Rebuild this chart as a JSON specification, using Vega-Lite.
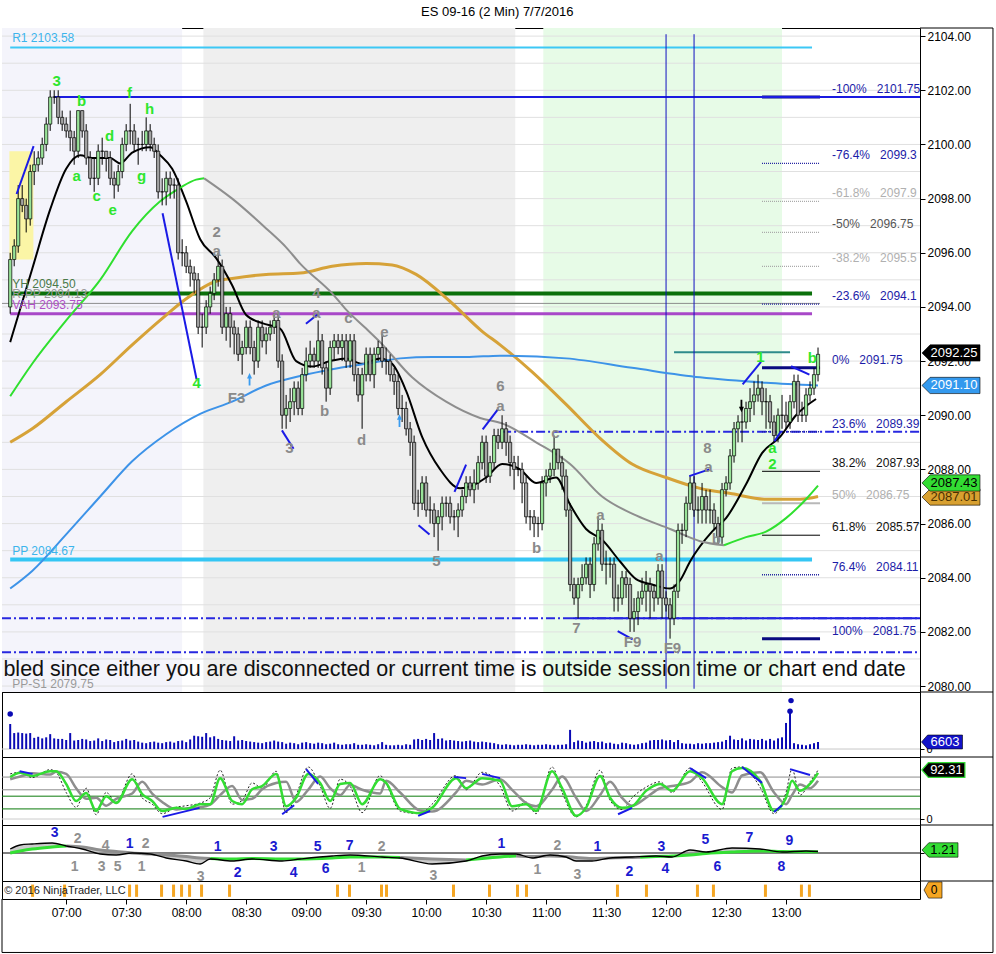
{
"$schema":"https://vega.github.io/schema/vega-lite/v6.json",
"background":"white",
"padding":{"left":0,"top":6,"right":2,"bottom":1},
"title":{"text":"ES 09-16 (2 Min)  7/7/2016","fontSize":13,"fontWeight":"normal","color":"#000","offset":8,"anchor":"middle","font":"Liberation Sans"},
"spacing":0,
"bounds":"flush",
"config":{"view":{"stroke":"#000","strokeWidth":1},"font":"Liberation Sans","axis":{"labelFont":"Liberation Sans","title":null},"text":{"font":"Liberation Sans"}},
"datasets":{
"one":[{"z":0}],
"grid":[{"p":2080},{"p":2081},{"p":2082},{"p":2083},{"p":2084},{"p":2085},{"p":2086},{"p":2087},{"p":2088},{"p":2089},{"p":2090},{"p":2091},{"p":2092},{"p":2093},{"p":2094},{"p":2095},{"p":2096},{"p":2097},{"p":2098},{"p":2099},{"p":2100},{"p":2101},{"p":2102},{"p":2103},{"p":2104}],
"bg":[{"a":387.9,"b":478,"k":"L"},{"a":488.6,"b":644.6,"k":"G"},{"a":658.6,"b":778,"k":"N"}],
"yel":[{"a":391.6,"b":403.6,"p1":2095.75,"p2":2099.75}],
"lv":[
{"k":"R1","p":2103.58,"a":392,"b":793},
{"k":"Hi","p":2101.75,"a":414,"b":847},
{"k":"YH","p":2094.5,"a":392,"b":793},
{"k":"RPP","p":2094.13,"a":387.9,"b":797},
{"k":"VAH","p":2093.75,"a":392,"b":793},
{"k":"PP","p":2084.67,"a":392,"b":793},
{"k":"DD","p":2089.39,"a":638,"b":847},
{"k":"DD","p":2082.5,"a":387.9,"b":847},
{"k":"DD","p":2081.25,"a":387.9,"b":847},
{"k":"Hi","p":2082.5,"a":673,"b":847},
{"k":"TL","p":2092.33,"a":724,"b":782},
{"k":"FibN","p":2101.75,"a":768,"b":797},
{"k":"FibN","p":2091.75,"a":768,"b":797},
{"k":"FibN","p":2081.75,"a":768,"b":797},
{"k":"FibD","p":2099.3,"a":768,"b":797},
{"k":"FibD","p":2094.1,"a":768,"b":797},
{"k":"FibD","p":2089.39,"a":768,"b":797},
{"k":"FibD","p":2084.11,"a":768,"b":797},
{"k":"FibG","p":2097.9,"a":768,"b":797},
{"k":"FibG","p":2096.75,"a":768,"b":797},
{"k":"FibG","p":2095.5,"a":768,"b":797},
{"k":"FibB","p":2087.93,"a":768,"b":797},
{"k":"FibB","p":2085.57,"a":768,"b":797},
{"k":"Fib50","p":2086.75,"a":768,"b":797}],
"vl":[{"m":720},{"m":734}],
"ma":[
{"s":"K","m":392,"p":2092.7},{"s":"K","m":403,"p":2095.4},{"s":"K","m":412,"p":2097.6},{"s":"K","m":420,"p":2099.1},{"s":"K","m":427,"p":2099.6},{"s":"K","m":433,"p":2099.5},{"s":"K","m":442,"p":2099.5},{"s":"K","m":447,"p":2099.3},{"s":"K","m":453,"p":2099.7},{"s":"K","m":462,"p":2099.9},{"s":"K","m":467,"p":2099.6},{"s":"K","m":473,"p":2099.1},{"s":"K","m":480,"p":2097.9},{"s":"K","m":487,"p":2096.5},{"s":"K","m":495,"p":2095.8},{"s":"K","m":503,"p":2094.8},{"s":"K","m":510,"p":2093.7},{"s":"K","m":518,"p":2093.4},{"s":"K","m":527,"p":2093.2},{"s":"K","m":535,"p":2092},{"s":"K","m":543,"p":2091.8},{"s":"K","m":552,"p":2092},{"s":"K","m":560,"p":2092.1},{"s":"K","m":568,"p":2091.9},{"s":"K","m":577,"p":2092.1},{"s":"K","m":583,"p":2091.9},{"s":"K","m":590,"p":2090.9},{"s":"K","m":598,"p":2089.2},{"s":"K","m":607,"p":2088},{"s":"K","m":617,"p":2087.3},{"s":"K","m":623,"p":2087.4},{"s":"K","m":630,"p":2087.7},{"s":"K","m":638,"p":2088.2},{"s":"K","m":647,"p":2088},{"s":"K","m":655,"p":2087.5},{"s":"K","m":665,"p":2087.7},{"s":"K","m":672,"p":2086.7},{"s":"K","m":680,"p":2085.8},{"s":"K","m":688,"p":2085.4},{"s":"K","m":697,"p":2084.6},{"s":"K","m":705,"p":2083.95},{"s":"K","m":713,"p":2083.75},{"s":"K","m":722,"p":2083.6},{"s":"K","m":727,"p":2083.9},{"s":"K","m":732,"p":2084.6},{"s":"K","m":743,"p":2085.7},{"s":"K","m":750,"p":2086.2},{"s":"K","m":760,"p":2087.45},{"s":"K","m":768,"p":2088.6},{"s":"K","m":777,"p":2089.2},{"s":"K","m":785,"p":2090},{"s":"K","m":795,"p":2090.6},
{"s":"O","m":392,"p":2089},{"s":"O","m":403,"p":2089.5},{"s":"O","m":420,"p":2090.5},{"s":"O","m":437,"p":2091.5},{"s":"O","m":453,"p":2092.6},{"s":"O","m":470,"p":2093.7},{"s":"O","m":480,"p":2094.3},{"s":"O","m":495,"p":2094.95},{"s":"O","m":503,"p":2095.05},{"s":"O","m":520,"p":2095.2},{"s":"O","m":537,"p":2095.25},{"s":"O","m":553,"p":2095.5},{"s":"O","m":570,"p":2095.6},{"s":"O","m":583,"p":2095.55},{"s":"O","m":595,"p":2095.2},{"s":"O","m":612,"p":2094.2},{"s":"O","m":628,"p":2093.1},{"s":"O","m":637,"p":2092.6},{"s":"O","m":653,"p":2091.6},{"s":"O","m":670,"p":2090.4},{"s":"O","m":687,"p":2089.15},{"s":"O","m":703,"p":2088.2},{"s":"O","m":720,"p":2087.7},{"s":"O","m":737,"p":2087.3},{"s":"O","m":753,"p":2087.1},{"s":"O","m":770,"p":2086.9},{"s":"O","m":787,"p":2086.9},{"s":"O","m":796,"p":2087},
{"s":"U","m":392,"p":2083.6},{"s":"U","m":403,"p":2084.25},{"s":"U","m":420,"p":2085.6},{"s":"U","m":437,"p":2087},{"s":"U","m":453,"p":2088.3},{"s":"U","m":470,"p":2089.3},{"s":"U","m":487,"p":2090.05},{"s":"U","m":503,"p":2090.5},{"s":"U","m":520,"p":2091.1},{"s":"U","m":537,"p":2091.45},{"s":"U","m":553,"p":2091.7},{"s":"U","m":570,"p":2091.9},{"s":"U","m":587,"p":2092.1},{"s":"U","m":603,"p":2092.15},{"s":"U","m":620,"p":2092.15},{"s":"U","m":637,"p":2092.2},{"s":"U","m":670,"p":2092.1},{"s":"U","m":703,"p":2091.75},{"s":"U","m":737,"p":2091.4},{"s":"U","m":770,"p":2091.2},{"s":"U","m":796,"p":2091.1},
{"s":"G1","m":392,"p":2090.7},{"s":"G1","m":403,"p":2091.9},{"s":"G1","m":420,"p":2093.5},{"s":"G1","m":437,"p":2095},{"s":"G1","m":453,"p":2096.8},{"s":"G1","m":467,"p":2097.9},{"s":"G1","m":477,"p":2098.4},{"s":"G1","m":485,"p":2098.7},{"s":"G1","m":489,"p":2098.75},
{"s":"GR","m":489,"p":2098.75},{"s":"GR","m":503,"p":2098},{"s":"GR","m":520,"p":2096.9},{"s":"GR","m":530,"p":2096.2},{"s":"GR","m":537,"p":2095.6},{"s":"GR","m":553,"p":2094.5},{"s":"GR","m":560,"p":2093.9},{"s":"GR","m":570,"p":2093.2},{"s":"GR","m":577,"p":2092.7},{"s":"GR","m":593,"p":2091.4},{"s":"GR","m":610,"p":2090.5},{"s":"GR","m":627,"p":2089.9},{"s":"GR","m":638,"p":2089.7},{"s":"GR","m":655,"p":2089},{"s":"GR","m":672,"p":2088.2},{"s":"GR","m":688,"p":2087},{"s":"GR","m":705,"p":2086.3},{"s":"GR","m":722,"p":2085.8},{"s":"GR","m":737,"p":2085.35},{"s":"GR","m":749,"p":2085.2},
{"s":"G2","m":749,"p":2085.2},{"s":"G2","m":760,"p":2085.5},{"s":"G2","m":770,"p":2085.7},{"s":"G2","m":780,"p":2086.2},{"s":"G2","m":790,"p":2086.9},{"s":"G2","m":796,"p":2087.4}],
"bars":[
{"m":392,"o":2094,"h":2096,"l":2093.75,"c":2095.75,"v":23500},
{"m":394,"o":2095.75,"h":2096.5,"l":2095.5,"c":2096.25,"v":15000},
{"m":396,"o":2096.25,"h":2098.5,"l":2096,"c":2098,"v":15500},
{"m":398,"o":2098,"h":2098.5,"l":2097.5,"c":2097.75,"v":15000},
{"m":400,"o":2097.75,"h":2098,"l":2096.75,"c":2097.25,"v":14500},
{"m":402,"o":2097.25,"h":2099.25,"l":2097,"c":2099,"v":15000},
{"m":404,"o":2099,"h":2099.75,"l":2098.5,"c":2099.25,"v":10500},
{"m":406,"o":2099.25,"h":2099.75,"l":2099,"c":2099.5,"v":11500},
{"m":408,"o":2099.5,"h":2100.25,"l":2099.25,"c":2100,"v":10000},
{"m":410,"o":2100,"h":2101,"l":2099.75,"c":2100.75,"v":11000},
{"m":412,"o":2100.75,"h":2102,"l":2100.5,"c":2101.75,"v":14000},
{"m":414,"o":2101.75,"h":2102,"l":2101.5,"c":2101.75,"v":10000},
{"m":416,"o":2101.75,"h":2102,"l":2100.75,"c":2101,"v":9500},
{"m":418,"o":2101,"h":2101.25,"l":2100.5,"c":2100.75,"v":9500},
{"m":420,"o":2100.75,"h":2101,"l":2100.25,"c":2100.5,"v":8500},
{"m":422,"o":2100.5,"h":2101.25,"l":2099.75,"c":2100.25,"v":15000},
{"m":424,"o":2100.25,"h":2100.5,"l":2099.25,"c":2099.75,"v":8000},
{"m":426,"o":2099.75,"h":2101.25,"l":2099.5,"c":2101.25,"v":8500},
{"m":428,"o":2101.25,"h":2101.25,"l":2100.25,"c":2100.5,"v":9500},
{"m":430,"o":2100.5,"h":2100.75,"l":2099.25,"c":2099.5,"v":9000},
{"m":432,"o":2099.5,"h":2099.75,"l":2098.5,"c":2098.75,"v":7500},
{"m":434,"o":2098.75,"h":2099.5,"l":2098.25,"c":2098.75,"v":8000},
{"m":436,"o":2098.75,"h":2100,"l":2098.5,"c":2099.75,"v":10000},
{"m":438,"o":2099.75,"h":2100.25,"l":2099.25,"c":2099.75,"v":7500},
{"m":440,"o":2099.75,"h":2099.75,"l":2099,"c":2099.5,"v":9000},
{"m":442,"o":2099.5,"h":2099.75,"l":2098.5,"c":2098.75,"v":8500},
{"m":444,"o":2098.75,"h":2099,"l":2098,"c":2098.5,"v":6500},
{"m":446,"o":2098.5,"h":2099.25,"l":2098.25,"c":2099,"v":7500},
{"m":448,"o":2099,"h":2100.25,"l":2098.75,"c":2100,"v":8000},
{"m":450,"o":2100,"h":2100.75,"l":2099.75,"c":2100.5,"v":9500},
{"m":452,"o":2100.5,"h":2101.5,"l":2100,"c":2100.5,"v":8000},
{"m":454,"o":2100.5,"h":2100.75,"l":2099.75,"c":2100,"v":8500},
{"m":456,"o":2100,"h":2100.25,"l":2099.25,"c":2100,"v":7000},
{"m":458,"o":2100,"h":2100.5,"l":2099.75,"c":2100,"v":6000},
{"m":460,"o":2100,"h":2101,"l":2099.75,"c":2100.5,"v":5500},
{"m":462,"o":2100.5,"h":2100.75,"l":2099.75,"c":2100,"v":6500},
{"m":464,"o":2100,"h":2100.25,"l":2099.5,"c":2099.75,"v":7000},
{"m":466,"o":2099.75,"h":2100,"l":2098,"c":2098.25,"v":6000},
{"m":468,"o":2098.25,"h":2098.75,"l":2097.75,"c":2098.25,"v":5500},
{"m":470,"o":2098.25,"h":2099,"l":2097.75,"c":2098.75,"v":6500},
{"m":472,"o":2098.75,"h":2099,"l":2098,"c":2098.5,"v":7000},
{"m":474,"o":2098.5,"h":2098.75,"l":2098,"c":2098.5,"v":6000},
{"m":476,"o":2098.5,"h":2098.75,"l":2095.75,"c":2096,"v":7500},
{"m":478,"o":2096,"h":2096.5,"l":2095.5,"c":2096,"v":8000},
{"m":480,"o":2096,"h":2096.25,"l":2095.25,"c":2095.5,"v":6500},
{"m":482,"o":2095.5,"h":2095.75,"l":2094.75,"c":2095.25,"v":9000},
{"m":484,"o":2095.25,"h":2095.5,"l":2094.5,"c":2095,"v":12500},
{"m":486,"o":2095,"h":2095.25,"l":2093,"c":2093.25,"v":12000},
{"m":488,"o":2093.25,"h":2093.75,"l":2092.5,"c":2093.25,"v":11500},
{"m":490,"o":2093.25,"h":2094.25,"l":2093,"c":2094,"v":15000},
{"m":492,"o":2094,"h":2094.75,"l":2093.75,"c":2094.5,"v":11000},
{"m":494,"o":2094.5,"h":2095.25,"l":2094.25,"c":2095,"v":12000},
{"m":496,"o":2095,"h":2096,"l":2094.75,"c":2095.5,"v":9500},
{"m":498,"o":2095.5,"h":2095.75,"l":2093,"c":2093.25,"v":8500},
{"m":500,"o":2093.25,"h":2094,"l":2092.75,"c":2093.75,"v":8000},
{"m":502,"o":2093.75,"h":2094,"l":2092.5,"c":2093.25,"v":7500},
{"m":504,"o":2093.25,"h":2093.5,"l":2092.25,"c":2093,"v":12000},
{"m":506,"o":2093,"h":2093.25,"l":2092,"c":2092.25,"v":8000},
{"m":508,"o":2092.25,"h":2092.75,"l":2091.5,"c":2092.5,"v":8500},
{"m":510,"o":2092.5,"h":2093.5,"l":2092.25,"c":2093.25,"v":7500},
{"m":512,"o":2093.25,"h":2093.5,"l":2092.25,"c":2092.5,"v":7000},
{"m":514,"o":2092.5,"h":2092.75,"l":2091.5,"c":2092,"v":6500},
{"m":516,"o":2092,"h":2093.5,"l":2091.75,"c":2093.25,"v":6000},
{"m":518,"o":2093.25,"h":2093.5,"l":2092.5,"c":2092.75,"v":5500},
{"m":520,"o":2092.75,"h":2093.25,"l":2092.25,"c":2093,"v":6500},
{"m":522,"o":2093,"h":2093.5,"l":2092.75,"c":2093.25,"v":7000},
{"m":524,"o":2093.25,"h":2093.75,"l":2093,"c":2093.5,"v":8000},
{"m":526,"o":2093.5,"h":2093.75,"l":2091.75,"c":2092,"v":7000},
{"m":528,"o":2092,"h":2092.25,"l":2089.5,"c":2090,"v":6500},
{"m":530,"o":2090,"h":2090.75,"l":2089.5,"c":2090.25,"v":5000},
{"m":532,"o":2090.25,"h":2091,"l":2089.75,"c":2090.5,"v":6000},
{"m":534,"o":2090.5,"h":2091.25,"l":2090,"c":2091,"v":5500},
{"m":536,"o":2091,"h":2091.25,"l":2090,"c":2090.25,"v":4500},
{"m":538,"o":2090.25,"h":2091.75,"l":2090,"c":2091.5,"v":6000},
{"m":540,"o":2091.5,"h":2092.5,"l":2091.25,"c":2092,"v":6500},
{"m":542,"o":2092,"h":2092.75,"l":2091.75,"c":2092.25,"v":5500},
{"m":544,"o":2092.25,"h":2092.5,"l":2091.75,"c":2092,"v":5000},
{"m":546,"o":2092,"h":2093.5,"l":2091.75,"c":2092.75,"v":6000},
{"m":548,"o":2092.75,"h":2093,"l":2091.5,"c":2091.75,"v":5500},
{"m":550,"o":2091.75,"h":2092,"l":2090.5,"c":2091,"v":4500},
{"m":552,"o":2091,"h":2092.75,"l":2090.75,"c":2092.5,"v":5000},
{"m":554,"o":2092.5,"h":2093,"l":2092,"c":2092.75,"v":6000},
{"m":556,"o":2092.75,"h":2093,"l":2092.25,"c":2092.5,"v":4500},
{"m":558,"o":2092.5,"h":2093,"l":2092,"c":2092.75,"v":4000},
{"m":560,"o":2092.75,"h":2093,"l":2091.75,"c":2092,"v":4500},
{"m":562,"o":2092,"h":2093,"l":2091.75,"c":2092.75,"v":4500},
{"m":564,"o":2092.75,"h":2093,"l":2091.25,"c":2091.5,"v":5500},
{"m":566,"o":2091.5,"h":2091.75,"l":2090.5,"c":2090.75,"v":4000},
{"m":568,"o":2090.75,"h":2091.75,"l":2089.5,"c":2091.5,"v":4000},
{"m":570,"o":2091.5,"h":2092.5,"l":2091.25,"c":2092.25,"v":4500},
{"m":572,"o":2092.25,"h":2092.5,"l":2091.25,"c":2091.5,"v":4000},
{"m":574,"o":2091.5,"h":2092.5,"l":2091,"c":2092.25,"v":3500},
{"m":576,"o":2092.25,"h":2092.75,"l":2092,"c":2092.5,"v":4500},
{"m":578,"o":2092.5,"h":2093,"l":2091.75,"c":2092,"v":6500},
{"m":580,"o":2092,"h":2092.5,"l":2091.5,"c":2092,"v":4000},
{"m":582,"o":2092,"h":2092.25,"l":2091.25,"c":2091.5,"v":3500},
{"m":584,"o":2091.5,"h":2091.75,"l":2090.75,"c":2091.25,"v":3500},
{"m":586,"o":2091.25,"h":2091.5,"l":2090,"c":2090.25,"v":4000},
{"m":588,"o":2090.25,"h":2090.75,"l":2089.75,"c":2090.25,"v":3500},
{"m":590,"o":2090.25,"h":2090.5,"l":2089.25,"c":2089.5,"v":4500},
{"m":592,"o":2089.5,"h":2089.75,"l":2088.5,"c":2089,"v":4000},
{"m":594,"o":2089,"h":2089.25,"l":2086.5,"c":2086.75,"v":9000},
{"m":596,"o":2086.75,"h":2087.25,"l":2086.25,"c":2086.75,"v":9500},
{"m":598,"o":2086.75,"h":2087.75,"l":2086.5,"c":2087.5,"v":8500},
{"m":600,"o":2087.5,"h":2087.75,"l":2086.25,"c":2086.5,"v":9500},
{"m":602,"o":2086.5,"h":2087,"l":2086,"c":2086.5,"v":8500},
{"m":604,"o":2086.5,"h":2086.75,"l":2085.5,"c":2086,"v":15000},
{"m":606,"o":2086,"h":2086.5,"l":2085,"c":2086.25,"v":9500},
{"m":608,"o":2086.25,"h":2087,"l":2085.75,"c":2086.75,"v":10000},
{"m":610,"o":2086.75,"h":2087,"l":2086.25,"c":2086.75,"v":8000},
{"m":612,"o":2086.75,"h":2087,"l":2086,"c":2086.25,"v":8500},
{"m":614,"o":2086.25,"h":2086.5,"l":2085.75,"c":2086.25,"v":8000},
{"m":616,"o":2086.25,"h":2086.75,"l":2085.5,"c":2086.5,"v":7500},
{"m":618,"o":2086.5,"h":2087.25,"l":2086.25,"c":2087,"v":7000},
{"m":620,"o":2087,"h":2087.75,"l":2086.75,"c":2087.5,"v":7500},
{"m":622,"o":2087.5,"h":2087.75,"l":2087,"c":2087.25,"v":8000},
{"m":624,"o":2087.25,"h":2088,"l":2086.75,"c":2087.5,"v":7000},
{"m":626,"o":2087.5,"h":2088.5,"l":2087.25,"c":2088.25,"v":6500},
{"m":628,"o":2088.25,"h":2089.25,"l":2088,"c":2089,"v":7000},
{"m":630,"o":2089,"h":2089.25,"l":2087.5,"c":2087.75,"v":6500},
{"m":632,"o":2087.75,"h":2088.5,"l":2087.5,"c":2088.25,"v":6000},
{"m":634,"o":2088.25,"h":2089.5,"l":2088,"c":2089.25,"v":5500},
{"m":636,"o":2089.25,"h":2089.5,"l":2088.75,"c":2089,"v":4500},
{"m":638,"o":2089,"h":2090,"l":2088.75,"c":2089.5,"v":4000},
{"m":640,"o":2089.5,"h":2089.75,"l":2088.5,"c":2089,"v":4500},
{"m":642,"o":2089,"h":2089.25,"l":2087.75,"c":2088.25,"v":4000},
{"m":644,"o":2088.25,"h":2088.5,"l":2087.25,"c":2088,"v":3500},
{"m":646,"o":2088,"h":2088.5,"l":2087.75,"c":2088,"v":4000},
{"m":648,"o":2088,"h":2088.25,"l":2086.75,"c":2087.5,"v":4000},
{"m":650,"o":2087.5,"h":2087.75,"l":2086,"c":2086.25,"v":4500},
{"m":652,"o":2086.25,"h":2086.5,"l":2085.75,"c":2086.25,"v":4000},
{"m":654,"o":2086.25,"h":2086.5,"l":2085.5,"c":2086,"v":3500},
{"m":656,"o":2086,"h":2086.25,"l":2085.5,"c":2086,"v":4000},
{"m":658,"o":2086,"h":2087.75,"l":2085.75,"c":2087.5,"v":4000},
{"m":660,"o":2087.5,"h":2088,"l":2087,"c":2087.75,"v":4500},
{"m":662,"o":2087.75,"h":2088.25,"l":2087.5,"c":2088,"v":4000},
{"m":664,"o":2088,"h":2089.25,"l":2087.75,"c":2088.75,"v":3500},
{"m":666,"o":2088.75,"h":2088.75,"l":2088,"c":2088.25,"v":4000},
{"m":668,"o":2088.25,"h":2088.5,"l":2087.25,"c":2087.75,"v":4000},
{"m":670,"o":2087.75,"h":2088,"l":2086.25,"c":2086.5,"v":4500},
{"m":672,"o":2086.5,"h":2086.75,"l":2083.5,"c":2083.75,"v":18000},
{"m":674,"o":2083.75,"h":2084,"l":2083,"c":2083.25,"v":6500},
{"m":676,"o":2083.25,"h":2084,"l":2082.5,"c":2083.75,"v":8000},
{"m":678,"o":2083.75,"h":2084.5,"l":2083.5,"c":2084,"v":7500},
{"m":680,"o":2084,"h":2084.75,"l":2083.75,"c":2084.5,"v":6000},
{"m":682,"o":2084.5,"h":2084.75,"l":2083.25,"c":2083.75,"v":7000},
{"m":684,"o":2083.75,"h":2085.5,"l":2083.5,"c":2085.25,"v":7500},
{"m":686,"o":2085.25,"h":2086.25,"l":2085,"c":2085.75,"v":6500},
{"m":688,"o":2085.75,"h":2086,"l":2084.25,"c":2084.5,"v":7000},
{"m":690,"o":2084.5,"h":2085,"l":2083.75,"c":2084.5,"v":5500},
{"m":692,"o":2084.5,"h":2084.75,"l":2084,"c":2084.5,"v":6000},
{"m":694,"o":2084.5,"h":2084.75,"l":2082.75,"c":2083.25,"v":5000},
{"m":696,"o":2083.25,"h":2083.75,"l":2082.75,"c":2083.25,"v":4500},
{"m":698,"o":2083.25,"h":2084.25,"l":2083,"c":2084,"v":6000},
{"m":700,"o":2084,"h":2084.25,"l":2083.25,"c":2083.75,"v":5500},
{"m":702,"o":2083.75,"h":2084,"l":2082,"c":2082.5,"v":4500},
{"m":704,"o":2082.5,"h":2083.25,"l":2082,"c":2082.75,"v":4000},
{"m":706,"o":2082.75,"h":2083.5,"l":2082.25,"c":2083.25,"v":4500},
{"m":708,"o":2083.25,"h":2084,"l":2083,"c":2083.5,"v":5500},
{"m":710,"o":2083.5,"h":2084.25,"l":2082.75,"c":2083.75,"v":6000},
{"m":712,"o":2083.75,"h":2084,"l":2082.5,"c":2083.5,"v":8000},
{"m":714,"o":2083.5,"h":2083.75,"l":2082.75,"c":2083.25,"v":8500},
{"m":716,"o":2083.25,"h":2084.5,"l":2083,"c":2084.25,"v":8500},
{"m":718,"o":2084.25,"h":2084.5,"l":2082.5,"c":2083.25,"v":9000},
{"m":720,"o":2083.25,"h":2083.5,"l":2082.75,"c":2083,"v":8000},
{"m":722,"o":2083,"h":2083.25,"l":2081.75,"c":2082.5,"v":8500},
{"m":724,"o":2082.5,"h":2083.75,"l":2082.25,"c":2083.5,"v":6500},
{"m":726,"o":2083.5,"h":2086,"l":2083.25,"c":2085.75,"v":8500},
{"m":728,"o":2085.75,"h":2086,"l":2085.25,"c":2085.75,"v":5500},
{"m":730,"o":2085.75,"h":2087,"l":2085.5,"c":2086.75,"v":5000},
{"m":732,"o":2086.75,"h":2087.75,"l":2086.5,"c":2087.5,"v":5000},
{"m":734,"o":2087.5,"h":2087.75,"l":2086.25,"c":2086.5,"v":4500},
{"m":736,"o":2086.5,"h":2087,"l":2086,"c":2086.5,"v":5500},
{"m":738,"o":2086.5,"h":2087.5,"l":2086,"c":2087,"v":5000},
{"m":740,"o":2087,"h":2087.25,"l":2086,"c":2086.5,"v":5500},
{"m":742,"o":2086.5,"h":2087.25,"l":2086,"c":2086.5,"v":5500},
{"m":744,"o":2086.5,"h":2086.75,"l":2085.75,"c":2086,"v":6000},
{"m":746,"o":2086,"h":2086.25,"l":2085.25,"c":2085.5,"v":6500},
{"m":748,"o":2085.5,"h":2087.5,"l":2085.25,"c":2087.25,"v":7000},
{"m":750,"o":2087.25,"h":2087.75,"l":2087,"c":2087.5,"v":8500},
{"m":752,"o":2087.5,"h":2088.75,"l":2087.25,"c":2088.5,"v":12500},
{"m":754,"o":2088.5,"h":2089.75,"l":2088.25,"c":2089.5,"v":9000},
{"m":756,"o":2089.5,"h":2090,"l":2089,"c":2089.75,"v":8500},
{"m":758,"o":2089.75,"h":2090.25,"l":2089,"c":2089.75,"v":10000},
{"m":760,"o":2089.75,"h":2090.5,"l":2089.5,"c":2090.25,"v":8000},
{"m":762,"o":2090.25,"h":2091,"l":2089.75,"c":2090.5,"v":9500},
{"m":764,"o":2090.5,"h":2091.25,"l":2090,"c":2090.75,"v":9000},
{"m":766,"o":2090.75,"h":2091.5,"l":2090.5,"c":2091,"v":8500},
{"m":768,"o":2091,"h":2091.25,"l":2090,"c":2090.5,"v":9500},
{"m":770,"o":2090.5,"h":2091,"l":2089.5,"c":2090.5,"v":8000},
{"m":772,"o":2090.5,"h":2090.75,"l":2089.5,"c":2089.75,"v":9500},
{"m":774,"o":2089.75,"h":2090,"l":2089,"c":2089.25,"v":8000},
{"m":776,"o":2089.25,"h":2090.25,"l":2089,"c":2090,"v":10000},
{"m":778,"o":2090,"h":2090.75,"l":2089.5,"c":2090,"v":11000},
{"m":780,"o":2090,"h":2090.5,"l":2089.5,"c":2089.75,"v":24500},
{"m":782,"o":2089.75,"h":2090.75,"l":2089.5,"c":2090.5,"v":34000},
{"m":784,"o":2090.5,"h":2091.5,"l":2090.25,"c":2091.25,"v":5500},
{"m":786,"o":2091.25,"h":2091.5,"l":2089.75,"c":2090,"v":4500},
{"m":788,"o":2090,"h":2090.5,"l":2089.75,"c":2090,"v":4000},
{"m":790,"o":2090,"h":2091,"l":2089.75,"c":2090.75,"v":3500},
{"m":792,"o":2090.75,"h":2091.25,"l":2090.5,"c":2091,"v":4500},
{"m":794,"o":2091,"h":2091.75,"l":2090.75,"c":2091.5,"v":5500},
{"m":796,"o":2091.5,"h":2092.5,"l":2091.25,"c":2092.25,"v":6603}],
"seg":[
{"m1":395.2,"p1":2098.17,"m2":403.7,"p2":2099.94},
{"m1":468.2,"p1":2097.46,"m2":485.2,"p2":2091.33},
{"m1":539.9,"p1":2093.38,"m2":545.7,"p2":2093.72},
{"m1":527.9,"p1":2089.44,"m2":533.7,"p2":2088.76},
{"m1":596.2,"p1":2085.94,"m2":601.7,"p2":2085.6},
{"m1":614.2,"p1":2087.17,"m2":620,"p2":2088.18},
{"m1":628.3,"p1":2089.48,"m2":635.8,"p2":2090.21},
{"m1":695.8,"p1":2082.03,"m2":703.3,"p2":2081.72},
{"m1":731.6,"p1":2087.75,"m2":741.6,"p2":2088},
{"m1":758.3,"p1":2091.14,"m2":767.5,"p2":2091.97},
{"m1":782.5,"p1":2091.81,"m2":791.7,"p2":2091.5},
{"m1":774.2,"p1":2089.04,"m2":777.5,"p2":2089.41}],
"arr":[{"m":511.7,"p":2091.33,"k":"B"},{"m":586.7,"p":2089.8,"k":"B"},{"m":757.7,"p":2090.34,"k":"K"}],
"wl":[
{"t":"3","m":415.2,"p":2102.34,"k":"G"},{"t":"b","m":427.7,"p":2101.6,"k":"G"},{"t":"f","m":451.7,"p":2101.9,"k":"G"},{"t":"h","m":461.7,"p":2101.3,"k":"G"},{"t":"d","m":441.7,"p":2100.3,"k":"G"},{"t":"a","m":425.2,"p":2098.83,"k":"G"},{"t":"c","m":435.2,"p":2098.1,"k":"G"},{"t":"g","m":457.7,"p":2098.83,"k":"G"},{"t":"e","m":443.2,"p":2097.57,"k":"G"},{"t":"4","m":485.2,"p":2091.2,"k":"G"},{"t":"1","m":767.2,"p":2092.15,"k":"G"},{"t":"b","m":793.2,"p":2092.1,"k":"G"},{"t":"a","m":773.2,"p":2088.8,"k":"G"},{"t":"2","m":773.2,"p":2088.2,"k":"G"},
{"t":"2","m":495.2,"p":2096.76,"k":"W"},{"t":"a","m":495.2,"p":2096.06,"k":"W"},{"t":"a","m":525.2,"p":2093.77,"k":"W"},{"t":"4","m":545.2,"p":2094.5,"k":"W"},{"t":"a","m":545.2,"p":2093.77,"k":"W"},{"t":"c","m":561.2,"p":2093.6,"k":"W"},{"t":"e","m":579.2,"p":2093.07,"k":"W"},{"t":"F3","m":505.2,"p":2090.63,"k":"W"},{"t":"b","m":549.2,"p":2090.15,"k":"W"},{"t":"d","m":567.7,"p":2089.1,"k":"W"},{"t":"3","m":531.7,"p":2088.79,"k":"W"},{"t":"5","m":605.2,"p":2084.6,"k":"W"},{"t":"6","m":637.2,"p":2091.08,"k":"W"},{"t":"a","m":637.2,"p":2090.34,"k":"W"},{"t":"c","m":664.7,"p":2089.34,"k":"W"},{"t":"b","m":655.2,"p":2085.1,"k":"W"},{"t":"a","m":687.2,"p":2086.31,"k":"W"},{"t":"7","m":675.2,"p":2082.14,"k":"W"},{"t":"F9","m":703.2,"p":2081.62,"k":"W"},{"t":"a","m":716.7,"p":2084.8,"k":"W"},{"t":"F9","m":723.2,"p":2081.4,"k":"W"},{"t":"8","m":740.7,"p":2088.79,"k":"W"},{"t":"a","m":741.2,"p":2088.08,"k":"W"},{"t":"b","m":745.2,"p":2085.43,"k":"W"}],
"fl":[
{"t":"-100%\u00a0\u00a0 2101.75","p":2101.75,"k":"N"},
{"t":"-76.4%\u00a0\u00a0 2099.3","p":2099.3,"k":"N"},
{"t":"-61.8%\u00a0\u00a0 2097.9","p":2097.9,"k":"G"},
{"t":"-50%\u00a0\u00a0 2096.75","p":2096.75,"k":"D"},
{"t":"-38.2%\u00a0\u00a0 2095.5","p":2095.5,"k":"G"},
{"t":"-23.6%\u00a0\u00a0 2094.1","p":2094.1,"k":"N"},
{"t":"0%\u00a0\u00a0 2091.75","p":2091.75,"k":"N"},
{"t":"23.6%\u00a0\u00a0 2089.39","p":2089.39,"k":"N"},
{"t":"38.2%\u00a0\u00a0 2087.93","p":2087.93,"k":"B"},
{"t":"50%\u00a0\u00a0 2086.75","p":2086.75,"k":"G"},
{"t":"61.8%\u00a0\u00a0 2085.57","p":2085.57,"k":"B"},
{"t":"76.4%\u00a0\u00a0 2084.11","p":2084.11,"k":"N"},
{"t":"100%\u00a0\u00a0 2081.75","p":2081.75,"k":"N"}],
"ll":[
{"t":"R1 2103.58","p":2103.58,"k":"C"},
{"t":"YH 2094.50","p":2094.5,"k":"Y"},
{"t":"R-PP 2094.13","p":2094.13,"k":"R"},
{"t":"VAH 2093.75","p":2093.75,"k":"V"},
{"t":"PP 2084.67","p":2084.67,"k":"C"},
{"t":"PP-S1 2079.75","p":2079.75,"k":"R"}],
"msg":[{"t":"bled since either you are disconnected or current time is outside session time or chart end date"}],
"tag":[{"p":2092.3,"t":"2092.25","k":"A"},{"p":2091.1,"t":"2091.10","k":"B"},{"p":2086.98,"t":"2087.01","k":"D"},{"p":2087.5,"t":"2087.43","k":"C"}],
"vdot":[{"m":392,"v":33000},{"m":782,"v":35500},{"m":782.5,"v":45500}],
"vtag":[{"v":6603,"t":"6603"}],
"st":[
{"m":392,"k":79,"d":75,"r":85},{"m":397,"k":87,"d":80,"r":88},{"m":403,"k":81,"d":86,"r":78},{"m":412,"k":90,"d":84,"r":93},{"m":415,"k":90,"d":89,"r":88},{"m":420,"k":66,"d":85,"r":50},{"m":425,"k":34,"d":58,"r":22},{"m":430,"k":49,"d":38,"r":58},{"m":435,"k":15,"d":40,"r":8},{"m":440,"k":43,"d":25,"r":50},{"m":445,"k":30,"d":38,"r":32},{"m":453,"k":75,"d":48,"r":85},{"m":458,"k":47,"d":70,"r":40},{"m":463,"k":34,"d":48,"r":28},{"m":468,"k":15,"d":32,"r":10},{"m":475,"k":21,"d":18,"r":22},{"m":480,"k":19,"d":20,"r":25},{"m":487,"k":28,"d":22,"r":30},{"m":492,"k":28,"d":27,"r":40},{"m":497,"k":77,"d":45,"r":92},{"m":503,"k":34,"d":62,"r":28},{"m":508,"k":28,"d":36,"r":35},{"m":513,"k":56,"d":38,"r":68},{"m":518,"k":62,"d":56,"r":58},{"m":525,"k":85,"d":68,"r":90},{"m":530,"k":24,"d":70,"r":12},{"m":535,"k":40,"d":32,"r":45},{"m":541,"k":85,"d":55,"r":98},{"m":547,"k":68,"d":80,"r":62},{"m":552,"k":34,"d":58,"r":20},{"m":557,"k":66,"d":45,"r":75},{"m":562,"k":68,"d":64,"r":62},{"m":568,"k":28,"d":55,"r":12},{"m":577,"k":75,"d":48,"r":82},{"m":580,"k":68,"d":72,"r":66},{"m":587,"k":19,"d":50,"r":15},{"m":597,"k":11,"d":16,"r":10},{"m":603,"k":21,"d":14,"r":28},{"m":615,"k":77,"d":50,"r":82},{"m":620,"k":58,"d":72,"r":55},{"m":628,"k":77,"d":65,"r":88},{"m":637,"k":72,"d":75,"r":62},{"m":643,"k":24,"d":55,"r":15},{"m":650,"k":28,"d":30,"r":32},{"m":655,"k":15,"d":24,"r":10},{"m":663,"k":90,"d":55,"r":98},{"m":668,"k":58,"d":80,"r":50},{"m":675,"k":6,"d":40,"r":4},{"m":680,"k":21,"d":15,"r":25},{"m":687,"k":81,"d":45,"r":92},{"m":692,"k":40,"d":70,"r":35},{"m":698,"k":21,"d":40,"r":18},{"m":703,"k":24,"d":25,"r":40},{"m":710,"k":53,"d":40,"r":60},{"m":717,"k":66,"d":58,"r":70},{"m":723,"k":53,"d":62,"r":50},{"m":732,"k":90,"d":70,"r":96},{"m":738,"k":77,"d":88,"r":70},{"m":748,"k":28,"d":60,"r":18},{"m":753,"k":90,"d":50,"r":96},{"m":758,"k":96,"d":82,"r":98},{"m":767,"k":72,"d":88,"r":60},{"m":774,"k":15,"d":50,"r":10},{"m":780,"k":40,"d":28,"r":50},{"m":783,"k":72,"d":45,"r":94},{"m":787,"k":53,"d":65,"r":45},{"m":792,"k":66,"d":58,"r":70},{"m":796,"k":87,"d":72,"r":92}],
"sref":[{"p":79,"k":"g"},{"p":55,"k":"g"},{"p":43,"k":"n"},{"p":19,"k":"n"},{"p":0,"k":"l"}],
"sseg":[{"m1":396.7,"v1":90,"m2":403.2,"v2":85},{"m1":468.2,"v1":4,"m2":486.7,"v2":21},{"m1":528,"v1":9,"m2":534,"v2":26},{"m1":540,"v1":94,"m2":546,"v2":66},{"m1":596,"v1":6,"m2":602,"v2":15},{"m1":614,"v1":79,"m2":620,"v2":77},{"m1":628,"v1":85,"m2":637,"v2":77},{"m1":696,"v1":9,"m2":703,"v2":21},{"m1":732,"v1":96,"m2":740,"v2":77},{"m1":758,"v1":98,"m2":768,"v2":68},{"m1":774,"v1":13,"m2":778,"v2":26},{"m1":782,"v1":94,"m2":792,"v2":83}],
"stag":[{"v":92.31,"t":"92.31"}],
"mc":[
{"m":392,"a":1.6,"s":0},{"m":397,"a":3.2,"s":0.8},{"m":403,"a":3.6,"s":1.6},{"m":413,"a":4,"s":2.4},{"m":420,"a":2.8,"s":2.8},{"m":428,"a":1.6,"s":2.4},{"m":437,"a":-0.4,"s":1.2},{"m":445,"a":-0.8,"s":0.6},{"m":453,"a":0,"s":0},{"m":462,"a":-0.4,"s":-0.4},{"m":470,"a":-2,"s":-0.8},{"m":480,"a":-3.2,"s":-1.4},{"m":487,"a":-4.4,"s":-2},{"m":492,"a":-2.4,"s":-2.2},{"m":503,"a":-3.2,"s":-2.4},{"m":513,"a":-2.4,"s":-2.2},{"m":528,"a":-3.2,"s":-2.4},{"m":537,"a":-2.4,"s":-2.4},{"m":553,"a":-1.2,"s":-2},{"m":562,"a":-0.8,"s":-1.6},{"m":578,"a":-1.6,"s":-1.6},{"m":587,"a":-2,"s":-1.8},{"m":603,"a":-4.4,"s":-2.4},{"m":620,"a":-3.2,"s":-2.8},{"m":628,"a":-1.2,"s":-2.2},{"m":637,"a":-0.4,"s":-1.6},{"m":645,"a":-0.4,"s":-1.2},{"m":653,"a":-2,"s":-1.4},{"m":662,"a":-0.8,"s":-1.2},{"m":670,"a":-1.6,"s":-1.4},{"m":675,"a":-3.2,"s":-1.8},{"m":683,"a":-3.2,"s":-2.2},{"m":692,"a":-2,"s":-2},{"m":703,"a":-1.6,"s":-1.8},{"m":715,"a":-1.2,"s":-1.4},{"m":723,"a":-1.6,"s":-1.2},{"m":732,"a":1.2,"s":-0.8},{"m":740,"a":0.4,"s":-0.2},{"m":753,"a":2,"s":0.4},{"m":767,"a":1.6,"s":0.8},{"m":778,"a":0.4,"s":0.6},{"m":790,"a":0.8,"s":0.5},{"m":796,"a":0.6,"s":0.5}],
"sig":[
{"g":1,"c":"up","m":392,"s":0},{"g":1,"c":"up","m":397,"s":0.8},{"g":1,"c":"up","m":403,"s":1.6},{"g":1,"c":"up","m":413,"s":2.4},{"g":1,"c":"up","m":420,"s":2.8},
{"g":2,"c":"dn","m":420,"s":2.8},{"g":2,"c":"dn","m":428,"s":2.4},{"g":2,"c":"dn","m":437,"s":1.2},{"g":2,"c":"dn","m":445,"s":0.6},{"g":2,"c":"dn","m":453,"s":0},{"g":2,"c":"dn","m":462,"s":-0.4},{"g":2,"c":"dn","m":470,"s":-0.8},{"g":2,"c":"dn","m":480,"s":-1.4},{"g":2,"c":"dn","m":487,"s":-2},{"g":2,"c":"dn","m":492,"s":-2.2},
{"g":3,"c":"up","m":492,"s":-2.2},{"g":3,"c":"up","m":503,"s":-2.4},{"g":3,"c":"up","m":513,"s":-2.2},{"g":3,"c":"up","m":528,"s":-2.4},{"g":3,"c":"up","m":537,"s":-2.4},{"g":3,"c":"up","m":553,"s":-2},{"g":3,"c":"up","m":562,"s":-1.6},{"g":3,"c":"up","m":578,"s":-1.6},{"g":3,"c":"up","m":587,"s":-1.8},
{"g":4,"c":"dn","m":587,"s":-1.8},{"g":4,"c":"dn","m":603,"s":-2.4},{"g":4,"c":"dn","m":620,"s":-2.8},
{"g":5,"c":"up","m":620,"s":-2.8},{"g":5,"c":"up","m":628,"s":-2.2},{"g":5,"c":"up","m":637,"s":-1.6},{"g":5,"c":"up","m":645,"s":-1.2},
{"g":6,"c":"dn","m":645,"s":-1.2},{"g":6,"c":"dn","m":653,"s":-1.4},{"g":6,"c":"dn","m":662,"s":-1.2},{"g":6,"c":"dn","m":670,"s":-1.4},{"g":6,"c":"dn","m":675,"s":-1.8},{"g":6,"c":"dn","m":683,"s":-2.2},{"g":6,"c":"dn","m":692,"s":-2},{"g":6,"c":"dn","m":703,"s":-1.8},{"g":6,"c":"dn","m":707,"s":-1.7},
{"g":7,"c":"up","m":707,"s":-1.7},{"g":7,"c":"up","m":715,"s":-1.4},{"g":7,"c":"up","m":723,"s":-1.2},{"g":7,"c":"up","m":732,"s":-0.8},{"g":7,"c":"up","m":740,"s":-0.2},{"g":7,"c":"up","m":753,"s":0.4},{"g":7,"c":"up","m":767,"s":0.8},{"g":7,"c":"up","m":778,"s":0.6},{"g":7,"c":"up","m":790,"s":0.5},{"g":7,"c":"up","m":796,"s":0.5}],
"ml":[
{"t":"3","m":414.2,"v":8,"k":"B"},{"t":"2","m":425.7,"v":5.6,"k":"W"},{"t":"1","m":424.2,"v":-5.6,"k":"W"},{"t":"4","m":439.7,"v":2.8,"k":"W"},{"t":"3","m":437.7,"v":-5.6,"k":"W"},{"t":"5","m":445.7,"v":-5.6,"k":"W"},{"t":"1","m":451.7,"v":3.6,"k":"B"},{"t":"2","m":459.7,"v":3.6,"k":"W"},{"t":"1","m":457.7,"v":-5.6,"k":"W"},{"t":"3","m":487.2,"v":-9.6,"k":"W"},{"t":"1","m":495.7,"v":2.4,"k":"B"},{"t":"2","m":505.7,"v":-8,"k":"B"},{"t":"3","m":523.7,"v":2.4,"k":"B"},{"t":"4","m":533.7,"v":-8,"k":"B"},{"t":"5","m":545.7,"v":2.4,"k":"B"},{"t":"6","m":549.7,"v":-6.4,"k":"B"},{"t":"7","m":561.7,"v":2.8,"k":"B"},{"t":"1","m":567.7,"v":-6,"k":"W"},{"t":"2","m":577.7,"v":2.4,"k":"W"},{"t":"3","m":603.7,"v":-9.2,"k":"W"},{"t":"1","m":637.7,"v":3.6,"k":"B"},{"t":"2","m":665.7,"v":2.8,"k":"W"},{"t":"1","m":655.7,"v":-6.8,"k":"W"},{"t":"3","m":675.7,"v":-8.8,"k":"W"},{"t":"1","m":685.7,"v":2.4,"k":"B"},{"t":"2","m":701.7,"v":-7.6,"k":"B"},{"t":"3","m":717.7,"v":2.4,"k":"B"},{"t":"4","m":719.7,"v":-6.4,"k":"B"},{"t":"5","m":739.7,"v":5.2,"k":"B"},{"t":"6","m":745.7,"v":-5.6,"k":"B"},{"t":"7","m":761.7,"v":6,"k":"B"},{"t":"8","m":777.7,"v":-5.6,"k":"B"},{"t":"9","m":781.7,"v":4.8,"k":"B"}],
"mtag":[{"v":1.21,"t":"1.21"}],
"tk":[{"m":403.2},{"m":419.2},{"m":451.7},{"m":455.2},{"m":467.7},{"m":473.7},{"m":477.7},{"m":481.7},{"m":487.7},{"m":501.7},{"m":555.7},{"m":561.7},{"m":577.7},{"m":580.2},{"m":613.7},{"m":631.7},{"m":645.7},{"m":650.2},{"m":695.7},{"m":710.2},{"m":735.7},{"m":743.7},{"m":769.7},{"m":787.7},{"m":791.7}],
"ttag":[{"v":0.5,"t":"0"}]
},
"vconcat":[
{
"width":918,"height":664,
"resolve":{"scale":{"color":"independent"}},
"layer":[
{"data":{"name":"bg"},"mark":"rect","encoding":{"x":{"field":"a","type":"quantitative","scale":{"domain":[387.9,847],"nice":false,"zero":false,"padding":0},"axis":null},"x2":{"field":"b"},"color":{"field":"k","type":"nominal","scale":{"domain":["L","G","N"],"range":["#f4f4fb","#efefef","#e7fbe7"]},"legend":null}}},
{"data":{"name":"grid"},"mark":{"type":"rule","color":"#e0e0e0","strokeWidth":1},"encoding":{"y":{"field":"p","type":"quantitative","title":null,"scale":{"domain":[2079.78,2104.3],"nice":false,"zero":false,"padding":0},"axis":{"orient":"right","values":[2080,2081,2082,2083,2084,2085,2086,2087,2088,2089,2090,2091,2092,2093,2094,2095,2096,2097,2098,2099,2100,2101,2102,2103,2104],"format":".2f","labelFontSize":12,"labelColor":"#000","tickColor":"#000","tickSize":5,"domain":false,"grid":false,"title":null,"labelPadding":2,"labelOverlap":false,"labelFont":"Liberation Sans"}}}},
{"data":{"name":"one"},"mark":{"type":"rule","color":"#000","strokeWidth":1},"encoding":{"x":{"datum":883.5,"type":"quantitative"},"y":{"datum":2079.78,"type":"quantitative"},"y2":{"datum":2104.3}}},
{"data":{"name":"one"},"mark":{"type":"rule","color":"#000","strokeWidth":1},"encoding":{"x":{"datum":847,"type":"quantitative"},"x2":{"datum":883.5},"y":{"datum":2104.3,"type":"quantitative"}}},
{"data":{"name":"yel"},"mark":{"type":"rect","color":"#fbf5a6"},"encoding":{"x":{"field":"a","type":"quantitative","axis":null},"x2":{"field":"b"},"y":{"field":"p1","type":"quantitative","title":null},"y2":{"field":"p2"}}},
{"data":{"name":"lv"},"transform":[{"filter":"datum.k=='YH'||datum.k=='PP'"}],"mark":{"type":"rule","strokeWidth":4},"encoding":{"x":{"field":"a","type":"quantitative","axis":null},"x2":{"field":"b"},"y":{"field":"p","type":"quantitative","title":null},"color":{"field":"k","type":"nominal","scale":{"domain":["R1","Hi","YH","RPP","VAH","PP","DD","TL","FibN","FibD","FibG","FibB","Fib50"],"range":["#3cc8f5","#1a1ae0","#0a700a","#8c8c8c","#a848c8","#34c6f4","#2828e0","#2e8b8b","#0a0a80","#2020a0","#a8a8a8","#000000","#b8b8b8"]},"legend":null}}},
{"data":{"name":"lv"},"transform":[{"filter":"datum.k=='VAH'||datum.k=='FibN'"}],"mark":{"type":"rule","strokeWidth":3},"encoding":{"x":{"field":"a","type":"quantitative","axis":null},"x2":{"field":"b"},"y":{"field":"p","type":"quantitative","title":null},"color":{"field":"k","type":"nominal","scale":{"domain":["R1","Hi","YH","RPP","VAH","PP","DD","TL","FibN","FibD","FibG","FibB","Fib50"],"range":["#3cc8f5","#1a1ae0","#0a700a","#8c8c8c","#a848c8","#34c6f4","#2828e0","#2e8b8b","#0a0a80","#2020a0","#a8a8a8","#000000","#b8b8b8"]},"legend":null}}},
{"data":{"name":"lv"},"transform":[{"filter":"datum.k=='R1'||datum.k=='Hi'||datum.k=='TL'||datum.k=='Fib50'"}],"mark":{"type":"rule","strokeWidth":2},"encoding":{"x":{"field":"a","type":"quantitative","axis":null},"x2":{"field":"b"},"y":{"field":"p","type":"quantitative","title":null},"color":{"field":"k","type":"nominal","scale":{"domain":["R1","Hi","YH","RPP","VAH","PP","DD","TL","FibN","FibD","FibG","FibB","Fib50"],"range":["#3cc8f5","#1a1ae0","#0a700a","#8c8c8c","#a848c8","#34c6f4","#2828e0","#2e8b8b","#0a0a80","#2020a0","#a8a8a8","#000000","#b8b8b8"]},"legend":null}}},
{"data":{"name":"lv"},"transform":[{"filter":"datum.k=='RPP'||datum.k=='FibB'"}],"mark":{"type":"rule","strokeWidth":1},"encoding":{"x":{"field":"a","type":"quantitative","axis":null},"x2":{"field":"b"},"y":{"field":"p","type":"quantitative","title":null},"color":{"field":"k","type":"nominal","scale":{"domain":["R1","Hi","YH","RPP","VAH","PP","DD","TL","FibN","FibD","FibG","FibB","Fib50"],"range":["#3cc8f5","#1a1ae0","#0a700a","#8c8c8c","#a848c8","#34c6f4","#2828e0","#2e8b8b","#0a0a80","#2020a0","#a8a8a8","#000000","#b8b8b8"]},"legend":null}}},
{"data":{"name":"lv"},"transform":[{"filter":"datum.k=='DD'"}],"mark":{"type":"rule","strokeWidth":2,"strokeDash":[9,3,2,3]},"encoding":{"x":{"field":"a","type":"quantitative","axis":null},"x2":{"field":"b"},"y":{"field":"p","type":"quantitative","title":null},"color":{"field":"k","type":"nominal","scale":{"domain":["R1","Hi","YH","RPP","VAH","PP","DD","TL","FibN","FibD","FibG","FibB","Fib50"],"range":["#3cc8f5","#1a1ae0","#0a700a","#8c8c8c","#a848c8","#34c6f4","#2828e0","#2e8b8b","#0a0a80","#2020a0","#a8a8a8","#000000","#b8b8b8"]},"legend":null}}},
{"data":{"name":"lv"},"transform":[{"filter":"datum.k=='FibD'||datum.k=='FibG'"}],"mark":{"type":"rule","strokeWidth":1.3,"strokeDash":[1,1]},"encoding":{"x":{"field":"a","type":"quantitative","axis":null},"x2":{"field":"b"},"y":{"field":"p","type":"quantitative","title":null},"color":{"field":"k","type":"nominal","scale":{"domain":["R1","Hi","YH","RPP","VAH","PP","DD","TL","FibN","FibD","FibG","FibB","Fib50"],"range":["#3cc8f5","#1a1ae0","#0a700a","#8c8c8c","#a848c8","#34c6f4","#2828e0","#2e8b8b","#0a0a80","#2020a0","#a8a8a8","#000000","#b8b8b8"]},"legend":null}}},
{"data":{"name":"vl"},"mark":{"type":"rule","color":"#1010c0","strokeWidth":1},"encoding":{"x":{"field":"m","type":"quantitative","axis":null},"y":{"datum":2104.07,"type":"quantitative"},"y2":{"datum":2079.9}}},
{"data":{"name":"ma"},"transform":[{"filter":"datum.s=='O'"}],"mark":{"type":"line","strokeWidth":3,"color":"#d6a238","interpolate":"monotone"},"encoding":{"x":{"field":"m","type":"quantitative","axis":null},"y":{"field":"p","type":"quantitative","title":null}}},
{"data":{"name":"ma"},"transform":[{"filter":"datum.s!='O'"}],"mark":{"type":"line","strokeWidth":2,"interpolate":"monotone"},"encoding":{"x":{"field":"m","type":"quantitative","axis":null},"y":{"field":"p","type":"quantitative","title":null},"detail":{"field":"s"},"color":{"field":"s","type":"nominal","scale":{"domain":["K","U","G1","GR","G2"],"range":["#000000","#3d93e8","#2fe02f","#8e8e8e","#2fe02f"]},"legend":null}}},
{"data":{"name":"bars"},"mark":{"type":"rule","color":"#000","strokeWidth":1},"encoding":{"x":{"field":"m","type":"quantitative","axis":null},"y":{"field":"l","type":"quantitative","title":null},"y2":{"field":"h"}}},
{"data":{"name":"bars"},"mark":{"type":"bar","width":3.2,"stroke":"#000","strokeWidth":0.7},"encoding":{"x":{"field":"m","type":"quantitative","axis":null},"y":{"field":"o","type":"quantitative","title":null},"y2":{"field":"c"},"color":{"condition":{"test":"datum.c>=datum.o","value":"#98e398"},"value":"#a3a3a3"}}},
{"data":{"name":"seg"},"mark":{"type":"rule","color":"#1a1ae6","strokeWidth":2},"encoding":{"x":{"field":"m1","type":"quantitative","axis":null},"x2":{"field":"m2"},"y":{"field":"p1","type":"quantitative","title":null},"y2":{"field":"p2"}}},
{"data":{"name":"arr"},"transform":[{"filter":"datum.k=='B'"}],"mark":{"type":"point","shape":"arrow","filled":true,"size":160,"color":"#3a9cf0","opacity":1},"encoding":{"x":{"field":"m","type":"quantitative","axis":null},"y":{"field":"p","type":"quantitative","title":null}}},
{"data":{"name":"arr"},"transform":[{"filter":"datum.k=='K'"}],"mark":{"type":"point","shape":"arrow","filled":true,"size":160,"color":"#000","angle":180,"opacity":1},"encoding":{"x":{"field":"m","type":"quantitative","axis":null},"y":{"field":"p","type":"quantitative","title":null}}},
{"data":{"name":"wl"},"mark":{"type":"text","fontSize":15,"fontWeight":"bold","font":"Liberation Sans","baseline":"middle"},"encoding":{"x":{"field":"m","type":"quantitative","axis":null},"y":{"field":"p","type":"quantitative","title":null},"text":{"field":"t"},"color":{"field":"k","type":"nominal","scale":{"domain":["G","W"],"range":["#2ee62e","#8a8a8a"]},"legend":null}}},
{"data":{"name":"fl"},"mark":{"type":"text","fontSize":12,"align":"left","baseline":"bottom","dy":-1,"font":"Liberation Sans"},"encoding":{"x":{"datum":803,"type":"quantitative"},"y":{"field":"p","type":"quantitative","title":null},"text":{"field":"t"},"color":{"field":"k","type":"nominal","scale":{"domain":["N","G","D","B"],"range":["#1c1ca8","#b0b0b0","#555555","#111111"]},"legend":null}}},
{"data":{"name":"ll"},"mark":{"type":"text","fontSize":12,"align":"left","baseline":"bottom","dy":-2,"font":"Liberation Sans"},"encoding":{"x":{"datum":393,"type":"quantitative"},"y":{"field":"p","type":"quantitative","title":null},"text":{"field":"t"},"color":{"field":"k","type":"nominal","scale":{"domain":["C","Y","R","V"],"range":["#3cb4ec","#4a7a4a","#9a9a9a","#b050c8"]},"legend":null}}},
{"data":{"name":"msg"},"mark":{"type":"text","fontSize":21.5,"align":"left","baseline":"middle","color":"#111","font":"Liberation Sans"},"encoding":{"x":{"datum":388.6,"type":"quantitative"},"y":{"datum":2080.6,"type":"quantitative"},"text":{"field":"t"}}},
{"data":{"name":"tag"},"mark":{"type":"point","shape":"M-1,0L-0.72,-0.28L1,-0.28L1,0.28L-0.72,0.28Z","filled":true,"size":3364,"opacity":1,"stroke":"#000","strokeWidth":0.6},"encoding":{"x":{"datum":862.5,"type":"quantitative"},"y":{"field":"p","type":"quantitative","title":null},"color":{"field":"k","type":"nominal","scale":{"domain":["A","B","C","D"],"range":["#000000","#3399ee","#33dd33","#d8a030"]},"legend":null}}},
{"data":{"name":"tag"},"mark":{"type":"text","fontSize":13,"align":"center","baseline":"middle","dx":3,"font":"Liberation Sans"},"encoding":{"x":{"datum":862.5,"type":"quantitative"},"y":{"field":"p","type":"quantitative","title":null},"text":{"field":"t"},"color":{"field":"k","type":"nominal","scale":{"domain":["A","B","C","D"],"range":["#ffffff","#ffffff","#000000","#4a3000"]},"legend":null}}}
]
},
{
"width":918,"height":65,
"layer":[
{"data":{"name":"one"},"mark":{"type":"rule","color":"#c8c8c8"},"encoding":{"x":{"datum":387.9,"type":"quantitative","scale":{"domain":[387.9,847],"nice":false,"zero":false,"padding":0},"axis":null},"x2":{"datum":847},"y":{"field":"z","type":"quantitative","title":null,"scale":{"domain":[-7500,53600],"nice":false,"zero":false,"padding":0},"axis":{"orient":"right","values":[0],"labelFontSize":11,"labelColor":"#000","tickColor":"#000","tickSize":4,"domain":false,"grid":false,"title":null}}}},
{"data":{"name":"one"},"mark":{"type":"rule","color":"#000","strokeWidth":1},"encoding":{"x":{"datum":883.5,"type":"quantitative"},"y":{"datum":-7500,"type":"quantitative"},"y2":{"datum":53600}}},
{"data":{"name":"one"},"mark":{"type":"rule","color":"#000","strokeWidth":1},"encoding":{"x":{"datum":847,"type":"quantitative"},"x2":{"datum":883.5},"y":{"datum":53600,"type":"quantitative"}}},
{"data":{"name":"bars"},"mark":{"type":"bar","width":2,"color":"#0a0ab4"},"encoding":{"x":{"field":"m","type":"quantitative","axis":null},"y":{"field":"v","type":"quantitative","title":null},"y2":{"datum":0}}},
{"data":{"name":"vdot"},"mark":{"type":"point","filled":true,"size":30,"color":"#0a0ab4","opacity":1},"encoding":{"x":{"field":"m","type":"quantitative","axis":null},"y":{"field":"v","type":"quantitative","title":null}}},
{"data":{"name":"vtag"},"mark":{"type":"point","shape":"M-1,0L-0.7,-0.34L1,-0.34L1,0.34L-0.7,0.34Z","filled":true,"size":1681,"opacity":1,"color":"#1212c8","stroke":"#000","strokeWidth":0.6},"encoding":{"x":{"datum":858,"type":"quantitative"},"y":{"field":"v","type":"quantitative","title":null}}},
{"data":{"name":"vtag"},"mark":{"type":"text","fontSize":13,"align":"center","baseline":"middle","dx":3,"color":"#fff","font":"Liberation Sans"},"encoding":{"x":{"datum":858,"type":"quantitative"},"y":{"field":"v","type":"quantitative","title":null},"text":{"field":"t"}}}
]
},
{
"width":918,"height":68,
"resolve":{"scale":{"color":"independent"}},
"layer":[
{"data":{"name":"sref"},"mark":{"type":"rule","strokeWidth":1},"encoding":{"x":{"datum":387.9,"type":"quantitative","scale":{"domain":[387.9,847],"nice":false,"zero":false,"padding":0},"axis":null},"x2":{"datum":847},"y":{"field":"p","type":"quantitative","title":null,"scale":{"domain":[-11.3,116.8],"nice":false,"zero":false,"padding":0},"axis":{"orient":"right","values":[0],"labelFontSize":11,"labelColor":"#000","tickColor":"#000","tickSize":4,"domain":false,"grid":false,"title":null}},"color":{"field":"k","type":"nominal","scale":{"domain":["g","n","l"],"range":["#8c8c8c","#0b7a0b","#cccccc"]},"legend":null}}},
{"data":{"name":"one"},"mark":{"type":"rule","color":"#000","strokeWidth":1},"encoding":{"x":{"datum":883.5,"type":"quantitative"},"y":{"datum":-11.3,"type":"quantitative"},"y2":{"datum":116.8}}},
{"data":{"name":"one"},"mark":{"type":"rule","color":"#000","strokeWidth":1},"encoding":{"x":{"datum":847,"type":"quantitative"},"x2":{"datum":883.5},"y":{"datum":116.8,"type":"quantitative"}}},
{"data":{"name":"st"},"mark":{"type":"line","strokeWidth":1,"strokeDash":[2,2],"color":"#222","interpolate":"monotone"},"encoding":{"x":{"field":"m","type":"quantitative","axis":null},"y":{"field":"r","type":"quantitative","title":null}}},
{"data":{"name":"st"},"mark":{"type":"line","strokeWidth":2.5,"color":"#8e8e8e","interpolate":"monotone"},"encoding":{"x":{"field":"m","type":"quantitative","axis":null},"y":{"field":"d","type":"quantitative","title":null}}},
{"data":{"name":"st"},"mark":{"type":"line","strokeWidth":2.5,"color":"#33dd33","interpolate":"monotone"},"encoding":{"x":{"field":"m","type":"quantitative","axis":null},"y":{"field":"k","type":"quantitative","title":null}}},
{"data":{"name":"sseg"},"mark":{"type":"rule","color":"#1a1ae6","strokeWidth":2},"encoding":{"x":{"field":"m1","type":"quantitative","axis":null},"x2":{"field":"m2"},"y":{"field":"v1","type":"quantitative","title":null},"y2":{"field":"v2"}}},
{"data":{"name":"stag"},"mark":{"type":"point","shape":"M-1,0L-0.7,-0.34L1,-0.34L1,0.34L-0.7,0.34Z","filled":true,"size":1849,"opacity":1,"color":"#000","stroke":"#33dd33","strokeWidth":1.2},"encoding":{"x":{"datum":858.7,"type":"quantitative"},"y":{"field":"v","type":"quantitative","title":null}}},
{"data":{"name":"stag"},"mark":{"type":"text","fontSize":13,"align":"center","baseline":"middle","dx":3,"color":"#fff","font":"Liberation Sans"},"encoding":{"x":{"datum":858.7,"type":"quantitative"},"y":{"field":"v","type":"quantitative","title":null},"text":{"field":"t"}}}
]
},
{
"width":918,"height":56,
"resolve":{"scale":{"color":"independent"}},
"layer":[
{"data":{"name":"one"},"mark":{"type":"rule","color":"#000","strokeWidth":1},"encoding":{"x":{"datum":387.9,"type":"quantitative","scale":{"domain":[387.9,847],"nice":false,"zero":false,"padding":0},"axis":null},"x2":{"datum":847},"y":{"field":"z","type":"quantitative","title":null,"scale":{"domain":[-11.2,11.2],"nice":false,"zero":false,"padding":0},"axis":{"orient":"right","values":[0],"labelFontSize":11,"labelColor":"#000","tickColor":"#000","tickSize":4,"domain":false,"grid":false,"title":null}}}},
{"data":{"name":"one"},"mark":{"type":"rule","color":"#000","strokeWidth":1},"encoding":{"x":{"datum":883.5,"type":"quantitative"},"y":{"datum":-11.2,"type":"quantitative"},"y2":{"datum":11.2}}},
{"data":{"name":"one"},"mark":{"type":"rule","color":"#000","strokeWidth":1},"encoding":{"x":{"datum":847,"type":"quantitative"},"x2":{"datum":883.5},"y":{"datum":11.2,"type":"quantitative"}}},
{"data":{"name":"mc"},"mark":{"type":"area","color":"#a8a8a8","opacity":0.6,"interpolate":"monotone"},"encoding":{"x":{"field":"m","type":"quantitative","axis":null},"y":{"field":"a","type":"quantitative","title":null},"y2":{"field":"s"}}},
{"data":{"name":"sig"},"mark":{"type":"line","strokeWidth":3,"interpolate":"monotone"},"encoding":{"x":{"field":"m","type":"quantitative","axis":null},"y":{"field":"s","type":"quantitative","title":null},"detail":{"field":"g"},"color":{"field":"c","type":"nominal","scale":{"domain":["up","dn"],"range":["#33e033","#8e8e8e"]},"legend":null}}},
{"data":{"name":"mc"},"mark":{"type":"line","strokeWidth":1.3,"color":"#000","interpolate":"monotone"},"encoding":{"x":{"field":"m","type":"quantitative","axis":null},"y":{"field":"a","type":"quantitative","title":null}}},
{"data":{"name":"ml"},"mark":{"type":"text","fontSize":14,"fontWeight":"bold","baseline":"middle","clip":true,"font":"Liberation Sans"},"encoding":{"x":{"field":"m","type":"quantitative","axis":null},"y":{"field":"v","type":"quantitative","title":null},"text":{"field":"t"},"color":{"field":"k","type":"nominal","scale":{"domain":["B","W"],"range":["#1a1ad0","#909090"]},"legend":null}}},
{"data":{"name":"mtag"},"mark":{"type":"point","shape":"M-1,0L-0.62,-0.4L1,-0.4L1,0.4L-0.62,0.4Z","filled":true,"size":1296,"opacity":1,"color":"#33dd33","stroke":"#000","strokeWidth":0.6},"encoding":{"x":{"datum":857,"type":"quantitative"},"y":{"field":"v","type":"quantitative","title":null}}},
{"data":{"name":"mtag"},"mark":{"type":"text","fontSize":13,"align":"center","baseline":"middle","dx":3,"color":"#000","font":"Liberation Sans"},"encoding":{"x":{"datum":857,"type":"quantitative"},"y":{"field":"v","type":"quantitative","title":null},"text":{"field":"t"}}}
]
},
{
"width":918,"height":18,
"layer":[
{"data":{"name":"tk"},"mark":{"type":"bar","width":3,"color":"#f5a623"},"encoding":{"x":{"field":"m","type":"quantitative","title":null,"scale":{"domain":[387.9,847],"nice":false,"zero":false,"padding":0},"axis":{"values":[420,450,480,510,540,570,600,630,660,690,720,750,780],"labelExpr":"(floor(datum.value/60)<10?'0':'')+floor(datum.value/60)+':'+(datum.value%60<10?'0':'')+(datum.value%60)","labelFontSize":12,"labelColor":"#000","tickColor":"#000","tickSize":5,"domain":false,"grid":false,"title":null,"labelPadding":3,"labelFlush":false,"labelOverlap":false,"labelFont":"Liberation Sans"}},"y":{"datum":0.12,"type":"quantitative","scale":{"domain":[0,1],"nice":false,"zero":false,"padding":0},"axis":null},"y2":{"datum":0.8}}},
{"data":{"name":"one"},"mark":{"type":"rule","color":"#000","strokeWidth":1},"encoding":{"x":{"datum":883.5,"type":"quantitative"},"y":{"datum":-2.97,"type":"quantitative"},"y2":{"datum":1}}},
{"data":{"name":"one"},"mark":{"type":"rule","color":"#000","strokeWidth":1},"encoding":{"x":{"datum":847,"type":"quantitative"},"x2":{"datum":883.5},"y":{"datum":1,"type":"quantitative"}}},
{"data":{"name":"one"},"mark":{"type":"rule","color":"#000","strokeWidth":1},"encoding":{"x":{"datum":387.9,"type":"quantitative"},"x2":{"datum":883.5},"y":{"datum":-2.97,"type":"quantitative"}}},
{"data":{"name":"one"},"mark":{"type":"rule","color":"#000","strokeWidth":1},"encoding":{"x":{"datum":387.9,"type":"quantitative"},"y":{"datum":-2.97,"type":"quantitative"},"y2":{"datum":0}}},
{"data":{"name":"one"},"mark":{"type":"text","fontSize":11,"align":"left","baseline":"middle","color":"#222","text":"© 2016 NinjaTrader, LLC","font":"Liberation Sans"},"encoding":{"x":{"datum":389,"type":"quantitative"},"y":{"datum":0.45,"type":"quantitative"}}},
{"data":{"name":"ttag"},"mark":{"type":"point","shape":"M-1,0L-0.5,-0.9L1,-0.9L1,0.9L-0.5,0.9Z","filled":true,"size":324,"opacity":1,"color":"#f5a623","stroke":"#000","strokeWidth":0.6},"encoding":{"x":{"datum":853.5,"type":"quantitative"},"y":{"field":"v","type":"quantitative","title":null}}},
{"data":{"name":"ttag"},"mark":{"type":"text","fontSize":12,"align":"center","baseline":"middle","dx":1,"color":"#000","font":"Liberation Sans"},"encoding":{"x":{"datum":853.5,"type":"quantitative"},"y":{"field":"v","type":"quantitative","title":null},"text":{"field":"t"}}}
]
}
]
}
